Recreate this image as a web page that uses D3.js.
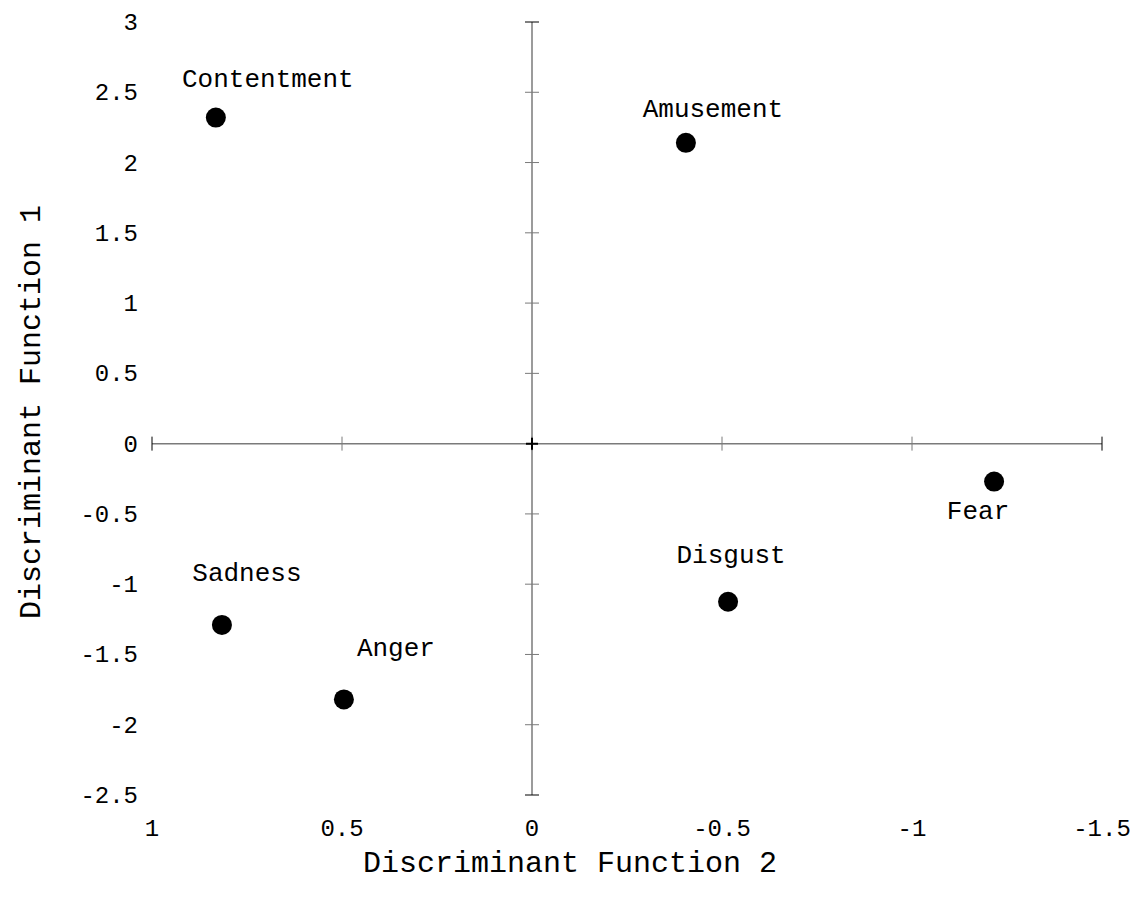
<!DOCTYPE html>
<html>
<head>
<meta charset="utf-8">
<script src="https://cdn.jsdelivr.net/npm/d3@7"></script>
<style>
  body { margin: 0; background: #fff; }
  text { font-family: "Courier New", "Liberation Mono", monospace; fill: #000; }
</style>
</head>
<body>
<div id="chart"></div>
<script>
// Dados
var emotions = ["Contentment", "Amusement", "Fear", "Disgust", "Sadness", "Anger"];
var df2 = [0.832, -0.405, -1.216, -0.516, 0.816, 0.495];
var df1 = [2.32, 2.14, -0.27, -1.125, -1.29, -1.82];

var xTicks = [1, 0.5, 0, -0.5, -1, -1.5];
var yTicks = [3, 2.5, 2, 1.5, 1, 0.5, 0, -0.5, -1, -1.5, -2, -2.5];

// deslocamento dos rótulos (px) em relação ao ponto
var labelOffset = {
  "Contentment": [52, -31],
  "Amusement": [27, -26],
  "Fear": [-16, 37],
  "Disgust": [3, -39],
  "Sadness": [25, -44],
  "Anger": [52, -43]
};

var width = 1145, height = 901;

var svg = d3.select("#chart")
            .append("svg")
            .attr("width", width)
            .attr("height", height);

// escalas
var xScale = d3.scaleLinear()
               .domain([1, -1.5])
               .range([152, 1102]);

var yScale = d3.scaleLinear()
               .domain([3, -2.5])
               .range([22, 795]);

var axisColor = "#7a7a7a";

// eixo horizontal em y = 0
svg.append("line")
   .attr("x1", xScale(1)).attr("x2", xScale(-1.5))
   .attr("y1", yScale(0)).attr("y2", yScale(0))
   .attr("stroke", axisColor).attr("stroke-width", 1.5);

svg.selectAll(".xtick")
   .data(xTicks)
   .enter()
   .append("line")
   .attr("class", "xtick")
   .attr("x1", function(d) { return xScale(d); })
   .attr("x2", function(d) { return xScale(d); })
   .attr("y1", yScale(0) - 7)
   .attr("y2", yScale(0) + 7)
   .attr("stroke", function(d) { return (d === 1 || d === -1.5) ? "#000" : axisColor; })
   .attr("stroke-width", 1);

// eixo vertical em x = 0
svg.append("line")
   .attr("x1", xScale(0)).attr("x2", xScale(0))
   .attr("y1", yScale(3)).attr("y2", yScale(-2.5))
   .attr("stroke", axisColor).attr("stroke-width", 1.5);

svg.selectAll(".ytick")
   .data(yTicks)
   .enter()
   .append("line")
   .attr("class", "ytick")
   .attr("x1", xScale(0) - 7)
   .attr("x2", xScale(0) + 7)
   .attr("y1", function(d) { return yScale(d); })
   .attr("y2", function(d) { return yScale(d); })
   .attr("stroke", function(d) { return (d === 3 || d === -2.5) ? "#000" : axisColor; })
   .attr("stroke-width", 1);

// cruz na origem
svg.append("path")
   .attr("d", "M" + (xScale(0) - 6) + "," + yScale(0) + "H" + (xScale(0) + 6) +
              "M" + xScale(0) + "," + (yScale(0) - 6) + "V" + (yScale(0) + 6))
   .attr("stroke", "#000").attr("stroke-width", 2);

// rótulos dos ticks
svg.selectAll(".xlabel")
   .data(xTicks)
   .enter()
   .append("text")
   .attr("class", "xlabel")
   .attr("x", function(d) { return xScale(d); })
   .attr("y", 836)
   .attr("text-anchor", "middle")
   .style("font-family", "'Liberation Mono', 'DejaVu Sans Mono', monospace")
   .style("font-size", "24px")
   .text(function(d) { return d; });

svg.selectAll(".ylabel")
   .data(yTicks)
   .enter()
   .append("text")
   .attr("class", "ylabel")
   .attr("x", 138)
   .attr("y", function(d) { return yScale(d) + 8; })
   .attr("text-anchor", "end")
   .style("font-family", "'Liberation Mono', 'DejaVu Sans Mono', monospace")
   .style("font-size", "24px")
   .text(function(d) { return d; });

// pontos
var points = emotions.map(function(e, i) { return { name: e, x: df2[i], y: df1[i] }; });

svg.selectAll("circle")
   .data(points)
   .enter()
   .append("circle")
   .attr("cx", function(d) { return xScale(d.x); })
   .attr("cy", function(d) { return yScale(d.y); })
   .attr("r", 10)
   .attr("fill", "#000");

svg.selectAll(".plabel")
   .data(points)
   .enter()
   .append("text")
   .attr("class", "plabel")
   .attr("x", function(d) { return xScale(d.x) + labelOffset[d.name][0]; })
   .attr("y", function(d) { return yScale(d.y) + labelOffset[d.name][1]; })
   .attr("text-anchor", "middle")
   .style("font-size", "26px")
   .text(function(d) { return d.name; });

// títulos dos eixos
svg.append("text")
   .attr("x", 570)
   .attr("y", 872)
   .attr("text-anchor", "middle")
   .style("font-size", "30px")
   .text("Discriminant Function 2");

svg.append("text")
   .attr("x", -412)
   .attr("y", 40)
   .attr("transform", "rotate(-90)")
   .attr("text-anchor", "middle")
   .style("font-size", "30px")
   .text("Discriminant Function 1");
</script>
</body>
</html>
